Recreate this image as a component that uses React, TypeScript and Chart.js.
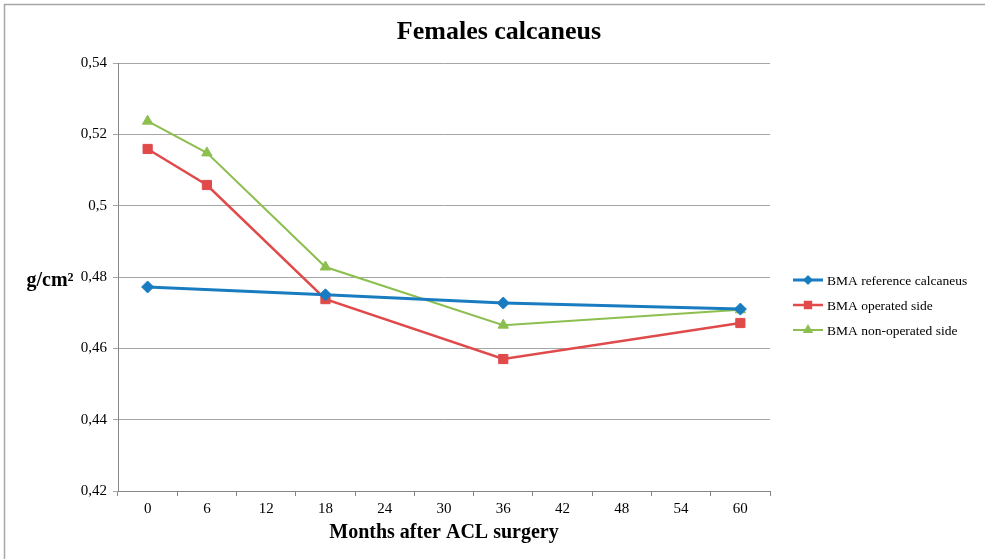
import React, { useEffect, useRef } from 'react';
import { Chart, registerables } from 'chart.js';

Chart.register(...registerables);

const chartTitle = 'Females calcaneus';
const xAxisTitle = 'Months after ACL surgery';
const yAxisTitle = 'g/cm²';
const xLabels = ['0', '6', '12', '18', '24', '30', '36', '42', '48', '54', '60'];
const refMonths = [0, 18, 36, 60];
const refValues = [0.4772, 0.475, 0.4727, 0.471];
const sideMonths = [0, 6, 18, 36, 60];
const operatedValues = [0.5159, 0.5058, 0.4738, 0.457, 0.4671];
const nonOperatedValues = [0.5237, 0.5148, 0.4828, 0.4665, 0.4708];
const seriesNames = ['BMA reference calcaneus', 'BMA operated side', 'BMA non-operated side'];
const seriesColors = ['#1a7cc0', '#e04a4a', '#8cbf4f'];
const seriesMarkers = ['rectRot', 'rect', 'triangle'];
const yMin = 0.42;
const yMax = 0.54;
const yStep = 0.02;

const SERIF = '"Liberation Serif", "Times New Roman", serif';

function drawMarker(ctx: CanvasRenderingContext2D, kind: string, x: number, y: number, r: number, color: string) {
  ctx.save();
  ctx.fillStyle = color;
  ctx.beginPath();
  if (kind === 'rectRot') {
    ctx.moveTo(x, y - r);
    ctx.lineTo(x + r, y);
    ctx.lineTo(x, y + r);
    ctx.lineTo(x - r, y);
  } else if (kind === 'rect') {
    const s = r * Math.SQRT1_2;
    ctx.rect(x - s, y - s, 2 * s, 2 * s);
  } else {
    ctx.moveTo(x, y - r);
    ctx.lineTo(x + r * 0.866, y + r * 0.5);
    ctx.lineTo(x - r * 0.866, y + r * 0.5);
  }
  ctx.closePath();
  ctx.fill();
  ctx.restore();
}

const decorPlugin = {
  id: 'decor',
  afterDraw(chart: any) {
    const ctx: CanvasRenderingContext2D = chart.ctx;
    ctx.save();
    // outer frame
    ctx.strokeStyle = '#a6a6a6';
    ctx.lineWidth = 1.5;
    ctx.beginPath();
    ctx.moveTo(4.5, 559);
    ctx.lineTo(4.5, 4.5);
    ctx.lineTo(985, 4.5);
    ctx.stroke();
    // title
    ctx.fillStyle = '#000';
    ctx.textAlign = 'center';
    ctx.textBaseline = 'middle';
    ctx.font = 'bold 26px ' + SERIF;
    ctx.fillText(chartTitle, 499, 32);
    // y title
    ctx.font = 'bold 20px ' + SERIF;
    ctx.textAlign = 'center';
    ctx.fillText(yAxisTitle, 50, 281);
    // legend
    ctx.font = '13.5px ' + SERIF;
    ctx.textAlign = 'left';
    const lineW = [3, 2.5, 2];
    for (let i = 0; i < seriesNames.length; i++) {
      const y = 280 + i * 25;
      ctx.strokeStyle = seriesColors[i];
      ctx.lineWidth = lineW[i];
      ctx.beginPath();
      ctx.moveTo(793, y);
      ctx.lineTo(823, y);
      ctx.stroke();
      drawMarker(ctx, seriesMarkers[i], 808, y, i === 0 ? 5 : 6, seriesColors[i]);
      ctx.fillStyle = '#000';
      ctx.fillText(seriesNames[i], 827, y + 1);
    }
    ctx.restore();
  },
};

export default function App() {
  const ref = useRef<HTMLCanvasElement | null>(null);

  useEffect(() => {
    if (!ref.current) return;
    const mk = (months: number[], vals: number[]) => months.map((m, i) => ({ x: String(m), y: vals[i] }));
    const chart = new Chart(ref.current, {
      type: 'line',
      data: {
        labels: xLabels,
        datasets: [
          {
            label: seriesNames[0],
            data: mk(refMonths, refValues),
            borderColor: seriesColors[0],
            backgroundColor: seriesColors[0],
            borderWidth: 3,
            pointStyle: seriesMarkers[0] as any,
            pointRadius: 6,
            pointBorderWidth: 1,
            spanGaps: true,
            tension: 0,
          },
          {
            label: seriesNames[1],
            data: mk(sideMonths, operatedValues),
            borderColor: seriesColors[1],
            backgroundColor: seriesColors[1],
            borderWidth: 2.5,
            pointStyle: seriesMarkers[1] as any,
            pointRadius: 6.5,
            pointBorderWidth: 1,
            spanGaps: true,
            tension: 0,
          },
          {
            label: seriesNames[2],
            data: mk(sideMonths, nonOperatedValues),
            borderColor: seriesColors[2],
            backgroundColor: seriesColors[2],
            borderWidth: 2,
            pointStyle: seriesMarkers[2] as any,
            pointRadius: 6,
            pointBorderWidth: 1,
            spanGaps: true,
            tension: 0,
          },
        ],
      },
      options: {
        responsive: false,
        animation: false,
        layout: { padding: { left: 0, right: 215, top: 63, bottom: 0 } },
        plugins: {
          legend: { display: false },
          title: { display: false },
          tooltip: { enabled: false },
        },
        scales: {
          x: {
            type: 'category',
            offset: true,
            grid: {
              offset: true,
              drawOnChartArea: false,
              drawTicks: true,
              tickLength: 5,
              color: '#868686',
            },
            border: { display: true, color: '#868686', width: 1 },
            ticks: {
              color: '#000',
              font: { family: SERIF, size: 15 },
              padding: 4,
              maxRotation: 0,
              autoSkip: false,
            },
            title: {
              display: true,
              text: xAxisTitle,
              color: '#000',
              font: { family: SERIF, size: 20, weight: 'bold' },
              padding: { top: 0, bottom: 14 },
            },
            afterFit: (scale: any) => {
              scale.height = 68;
            },
          },
          y: {
            min: yMin,
            max: yMax,
            grid: {
              color: '#a6a6a6',
              drawTicks: true,
              tickLength: 5,
            },
            border: { display: true, color: '#868686', width: 1 },
            ticks: {
              stepSize: yStep,
              color: '#000',
              font: { family: SERIF, size: 15 },
              padding: 6,
              callback: (v: any) => String(parseFloat(Number(v).toFixed(2))).replace('.', ','),
            },
            afterFit: (scale: any) => {
              scale.width = 118;
            },
          },
        },
      },
      plugins: [decorPlugin],
    });
    return () => chart.destroy();
  }, []);

  return (
    <div style={{ position: 'fixed', left: 0, top: 0, width: 985, height: 559, background: '#fff' }}>
      <canvas ref={ref} width={985} height={559} style={{ display: 'block' }} />
    </div>
  );
}
